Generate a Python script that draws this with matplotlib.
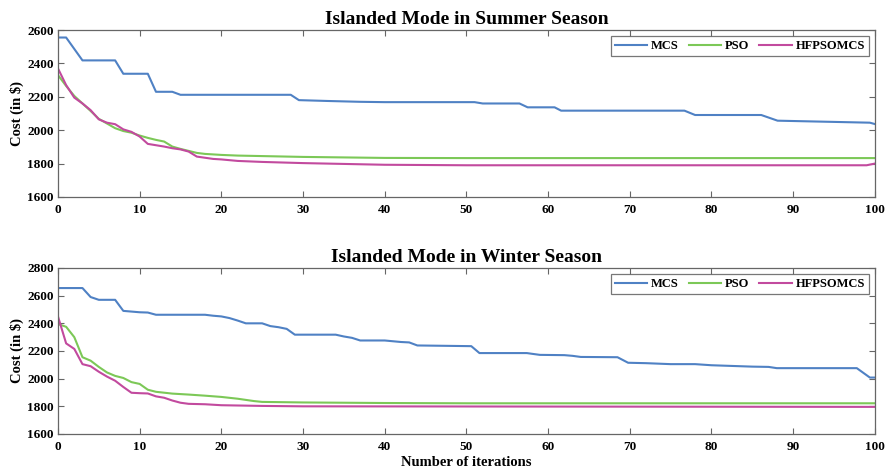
import matplotlib
matplotlib.use("Agg")
import matplotlib.pyplot as plt

plt.rcParams['font.family'] = ['Liberation Serif', 'DejaVu Serif']
plt.rcParams['font.weight'] = 'bold'

# summer season convergence (iteration, cost)
summer_mcs_it = [0, 1, 3, 7, 8, 11, 12, 14, 15, 28.5, 29.5, 33, 37, 40, 51, 52, 56.5, 57.5,
                 60.8, 61.6, 76.7, 78, 86.1, 88.1, 99.4, 100]
summer_mcs = [2555, 2555, 2418, 2418, 2338, 2338, 2230, 2230, 2212, 2212, 2180, 2175, 2170, 2168,
              2168, 2160, 2160, 2137, 2137, 2117, 2117, 2091, 2091, 2057, 2045, 2037]
summer_pso_it = [0, 1, 2, 3, 4, 5, 6, 7, 8, 9, 10, 11, 12, 13, 14, 15, 16, 17, 18, 19, 20, 22,
                 25, 30, 40, 50, 100]
summer_pso = [2330, 2265, 2205, 2160, 2115, 2068, 2040, 2012, 1995, 1985, 1968, 1954, 1942, 1932,
              1902, 1888, 1876, 1864, 1858, 1855, 1852, 1848, 1845, 1840, 1834, 1833, 1833]
summer_hf_it = [0, 1, 2, 3, 4, 5, 6, 7, 8, 9, 10, 11, 12, 13, 14, 15, 16, 17, 18, 19, 20, 22, 25,
                30, 35, 40, 50, 99, 100]
summer_hf = [2370, 2270, 2195, 2160, 2120, 2065, 2045, 2036, 2005, 1990, 1962, 1918, 1910, 1902,
             1892, 1885, 1872, 1842, 1835, 1828, 1825, 1816, 1810, 1803, 1798, 1793, 1790, 1790, 1800]

# winter season convergence
winter_mcs_it = [0, 3, 4, 5, 7, 8, 10, 11, 12, 18, 19, 20, 21, 22, 23, 25, 26, 27, 28, 29, 34, 35,
                 36, 37, 40, 42, 43, 44, 50.6, 51.6, 57.4, 58, 59, 62, 63, 64, 68.5, 69.8, 72, 75,
                 78, 80, 82, 85, 87, 88, 97.8, 99.4, 100]
winter_mcs = [2655, 2655, 2590, 2570, 2570, 2490, 2480, 2478, 2462, 2462, 2455, 2450, 2438, 2420,
              2400, 2400, 2380, 2372, 2360, 2318, 2318, 2305, 2295, 2276, 2276, 2265, 2262, 2240,
              2235, 2185, 2185, 2180, 2172, 2170, 2165, 2157, 2155, 2115, 2112, 2105, 2105, 2097,
              2093, 2087, 2085, 2076, 2076, 2008, 2008]
winter_pso_it = [0, 1, 2, 3, 4, 5, 6, 7, 8, 9, 10, 11, 12, 14, 16, 18, 20, 22, 24, 25, 30, 40,
                 50, 100]
winter_pso = [2395, 2375, 2300, 2155, 2130, 2085, 2045, 2020, 2005, 1975, 1962, 1920, 1905, 1892,
              1885, 1877, 1868, 1855, 1838, 1832, 1828, 1824, 1822, 1822]
winter_hf_it = [0, 1, 2, 3, 4, 5, 6, 7, 8, 9, 10, 11, 12, 13, 14, 15, 16, 18, 20, 25, 30, 100]
winter_hf = [2450, 2255, 2215, 2105, 2090, 2050, 2015, 1985, 1940, 1898, 1895, 1893, 1872, 1862,
             1842, 1826, 1818, 1815, 1808, 1803, 1800, 1796]

labels = ['MCS', 'PSO', 'HFPSOMCS']
colors = ['#4f81c4', '#7cc857', '#c24a9e']
xticks = list(range(0, 101, 10))

fig = plt.figure(figsize=(8.89, 4.74), dpi=100)
ax1 = fig.add_axes([0.0652, 0.5844, 0.9188, 0.3523])
ax2 = fig.add_axes([0.0652, 0.0844, 0.9188, 0.3502])

panels = [
  (ax1, 'Islanded Mode in Summer Season',
   [(summer_mcs_it, summer_mcs), (summer_pso_it, summer_pso), (summer_hf_it, summer_hf)],
   (1600, 2600), range(1600, 2601, 200)),
  (ax2, 'Islanded Mode in Winter Season',
   [(winter_mcs_it, winter_mcs), (winter_pso_it, winter_pso), (winter_hf_it, winter_hf)],
   (1600, 2800), range(1600, 2801, 200)),
]

for ax, title, series, ylim, yticks in panels:
  for (xs, ys), lab, c in zip(series, labels, colors):
    ax.plot(xs, ys, color=c, lw=1.5, label=lab)
  ax.set_xlim(0, 100)
  ax.set_ylim(*ylim)
  ax.set_xticks(xticks)
  ax.set_yticks(list(yticks))
  ax.tick_params(direction='in', top=True, right=True, labelsize=9.5, length=4,
                 color='#666666')
  ax.tick_params(axis='x', pad=5)
  ax.tick_params(axis='y', pad=3)
  for lbl in ax.get_xticklabels() + ax.get_yticklabels():
    lbl.set_fontweight('bold')
  for s in ax.spines.values():
    s.set_color('#666666')
    s.set_linewidth(0.9)
  ax.set_title(title, fontsize=14, fontweight='bold', pad=4)
  ax.set_ylabel('Cost (in $)', fontsize=10.5, fontweight='bold', labelpad=2)
  leg = ax.legend(loc='upper right', ncol=3, fontsize=9, frameon=True, fancybox=False,
                  handlelength=2.6, handletextpad=0.3, columnspacing=0.8,
                  borderpad=0.3, borderaxespad=0.5)
  leg.get_frame().set_edgecolor('#555555')
  leg.get_frame().set_linewidth(0.9)
  for t in leg.get_texts():
    t.set_fontweight('bold')

ax2.set_xlabel('Number of iterations', fontsize=10.5, fontweight='bold', labelpad=2)

fig.savefig('out.png', dpi=100)
